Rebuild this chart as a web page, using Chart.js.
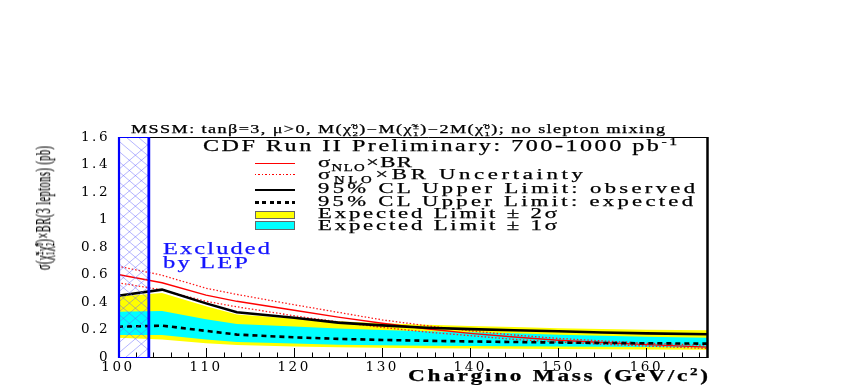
<!DOCTYPE html>
<html><head><meta charset="utf-8">
<script src="https://cdn.jsdelivr.net/npm/chart.js@4/dist/chart.umd.min.js"></script>
<style>
html,body{margin:0;padding:0;background:#fff;}
#wrap{position:relative;width:850px;height:385px;overflow:hidden;background:#fff;}
canvas{position:absolute;left:0;top:0;}
.t{position:absolute;white-space:nowrap;line-height:1;font-family:"Liberation Serif","Times New Roman",serif;color:#000;transform-origin:0 0;-webkit-text-stroke:0.25px currentColor;}
.ss{display:inline-block;vertical-align:-0.32em;font-size:0.6em;line-height:0.92;text-align:left;}
.ss span{display:block;}
sub,sup{font-size:0.65em;line-height:0;}
.sw{position:absolute;box-sizing:border-box;}
</style></head><body>
<div id="wrap"><canvas id="c" width="850" height="385"></canvas></div>
<script>
// ---- data ----
const mass      = [100, 105, 110, 113.5, 120, 125, 130, 135, 140, 145, 150, 155, 160, 167];
const sigmaBR   = [0.60, 0.54, 0.45, 0.405, 0.34, 0.29, 0.245, 0.205, 0.172, 0.145, 0.122, 0.105, 0.090, 0.072];
const sigmaUp   = [0.66, 0.595, 0.50, 0.455, 0.38, 0.325, 0.27, 0.228, 0.19, 0.16, 0.135, 0.117, 0.100, 0.085];
const sigmaDn   = [0.54, 0.488, 0.405, 0.365, 0.30, 0.255, 0.215, 0.182, 0.155, 0.128, 0.108, 0.093, 0.080, 0.062];
const observed  = [0.445, 0.49, 0.39, 0.325, 0.285, 0.25, 0.23, 0.213, 0.203, 0.195, 0.187, 0.178, 0.172, 0.165];
const expected  = [0.22, 0.228, 0.19, 0.163, 0.143, 0.132, 0.124, 0.118, 0.113, 0.109, 0.105, 0.102, 0.100, 0.097];
const exp1Up    = [0.33, 0.335, 0.275, 0.24, 0.222, 0.208, 0.197, 0.188, 0.18, 0.172, 0.162, 0.155, 0.148, 0.14];
const exp1Dn    = [0.16, 0.16, 0.128, 0.11, 0.098, 0.09, 0.085, 0.082, 0.08, 0.078, 0.076, 0.074, 0.072, 0.07];
const exp2Up    = [0.44, 0.465, 0.37, 0.31, 0.28, 0.26, 0.245, 0.235, 0.225, 0.218, 0.21, 0.203, 0.198, 0.195];
const exp2Dn    = [0.14, 0.128, 0.10, 0.087, 0.077, 0.071, 0.067, 0.064, 0.062, 0.060, 0.058, 0.056, 0.055, 0.053];
const lepLimit  = 103.5;
const xRange    = [100, 167];
const yRange    = [0, 1.6];
const xTicks    = [100, 110, 120, 130, 140, 150, 160];
const xTickLabels = ["100", "110", "120", "130", "140", "150", "160"];
const yTicks    = [0, 0.2, 0.4, 0.6, 0.8, 1.0, 1.2, 1.4, 1.6];
const yTickLabels = ["0", "0.2", "0.4", "0.6", "0.8", "1", "1.2", "1.4", "1.6"];

const pts = arr => mass.map((m, i) => ({x: m, y: arr[i]}));
const clear = 'rgba(0,0,0,0)';

const framePlugin = {
  id: 'frame',
  beforeDraw(chart) { chart.ctx.letterSpacing = '2.5px'; },
  afterDraw(chart) { chart.ctx.letterSpacing = '0px'; },
  afterDatasetsDraw(chart) {
    const {ctx, chartArea: a, scales: {x, y}} = chart;
    ctx.save();
    ctx.letterSpacing = '0px';
    // LEP exclusion hatch
    const xl = x.getPixelForValue(xRange[0]);
    const xr = x.getPixelForValue(lepLimit);
    ctx.save();
    ctx.beginPath(); ctx.rect(xl, a.top, xr - xl, a.bottom - a.top); ctx.clip();
    ctx.strokeStyle = 'rgba(100,100,255,0.6)'; ctx.lineWidth = 0.8;
    const h = a.bottom - a.top, step = 12, k = 0.85;
    for (let s = -h; s < (xr - xl) + h; s += step) {
      ctx.beginPath();
      ctx.moveTo(xl + s, a.top); ctx.lineTo(xl + s + h / k, a.bottom); ctx.stroke();
      ctx.beginPath();
      ctx.moveTo(xl + s, a.bottom); ctx.lineTo(xl + s + h / k, a.top); ctx.stroke();
    }
    ctx.restore();
    // frame
    ctx.strokeStyle = '#000'; ctx.lineWidth = 1;
    ctx.beginPath(); ctx.moveTo(xr, a.top + 0.5); ctx.lineTo(a.right, a.top + 0.5); ctx.stroke();
    ctx.beginPath(); ctx.moveTo(xl, a.bottom + 0.5); ctx.lineTo(a.right, a.bottom + 0.5); ctx.stroke();
    ctx.lineWidth = 2.5;
    ctx.beginPath(); ctx.moveTo(a.right - 0.5, a.top); ctx.lineTo(a.right - 0.5, a.bottom + 1); ctx.stroke();
    // x ticks (inward)
    ctx.lineWidth = 1;
    for (let v = xRange[0]; v <= xRange[1] + 1e-6; v += 2) {
      const major = xTicks.includes(v);
      const px = Math.round(x.getPixelForValue(v)) + 0.5;
      ctx.beginPath(); ctx.moveTo(px, a.bottom); ctx.lineTo(px, a.bottom - (major ? 9 : 4.5)); ctx.stroke();
    }
    // LEP box borders
    ctx.strokeStyle = '#0000ff';
    ctx.lineWidth = 1;
    ctx.beginPath(); ctx.moveTo(xl, a.top + 0.5); ctx.lineTo(xr, a.top + 0.5); ctx.stroke();
    ctx.beginPath(); ctx.moveTo(xl, a.bottom + 0.5); ctx.lineTo(xr, a.bottom + 0.5); ctx.stroke();
    ctx.lineWidth = 2.2;
    ctx.beginPath(); ctx.moveTo(xl + 1, a.top); ctx.lineTo(xl + 1, a.bottom + 1); ctx.stroke();
    ctx.lineWidth = 2.8;
    ctx.beginPath(); ctx.moveTo(xr, a.top); ctx.lineTo(xr, a.bottom + 1); ctx.stroke();
    ctx.restore();
  }
};

new Chart(document.getElementById('c'), {
  type: 'line',
  data: {datasets: [
    {label: 'sigmaBR', data: pts(sigmaBR), borderColor: '#ff0000', borderWidth: 1.4, order: 1, fill: false},
    {label: 'sigmaUp', data: pts(sigmaUp), borderColor: '#ff1a1a', borderWidth: 1.3, borderDash: [1.5, 2], order: 2, fill: false},
    {label: 'sigmaDn', data: pts(sigmaDn), borderColor: '#ff1a1a', borderWidth: 1.3, borderDash: [1.5, 2], order: 2, fill: false},
    {label: 'observed', data: pts(observed), borderColor: '#000', borderWidth: 2.6, order: 0, fill: false},
    {label: 'expected', data: pts(expected), borderColor: '#000', borderWidth: 2.6, borderDash: [5, 4], order: 0, fill: false},
    {label: 'exp1Up', data: pts(exp1Up), borderColor: clear, borderWidth: 1, backgroundColor: '#00ffff', fill: {target: 6}, order: 8},
    {label: 'exp1Dn', data: pts(exp1Dn), borderColor: clear, borderWidth: 1, fill: false, order: 8},
    {label: 'exp2Up', data: pts(exp2Up), borderColor: clear, borderWidth: 1, backgroundColor: '#ffff00', fill: {target: 8}, order: 9},
    {label: 'exp2Dn', data: pts(exp2Dn), borderColor: clear, borderWidth: 1, fill: false, order: 9}
  ]},
  options: {
    responsive: false, animation: false, devicePixelRatio: 1,
    layout: {padding: {left: 0, top: 137, right: 142, bottom: 0}},
    elements: {point: {radius: 0}, line: {tension: 0}},
    plugins: {legend: {display: false}, tooltip: {enabled: false}, filler: {propagate: false}},
    scales: {
      x: {
        type: 'linear', min: xRange[0], max: xRange[1],
        grid: {display: false, drawTicks: false}, border: {display: false},
        afterBuildTicks: s => { s.ticks = xTicks.map(v => ({value: v})); },
        afterFit: s => { s.height = 28; },
        ticks: {padding: 2, color: '#000', autoSkip: false, maxRotation: 0,
          font: {family: 'DejaVu Serif', size: 13.5},
          callback: (v, i) => xTickLabels[i]}
      },
      y: {
        type: 'linear', min: yRange[0], max: yRange[1],
        grid: {display: false, drawTicks: false}, border: {display: false},
        afterBuildTicks: s => { s.ticks = yTicks.map(v => ({value: v})); },
        afterFit: s => { s.width = 118; },
        ticks: {padding: 8, color: '#000', autoSkip: false,
          font: {family: 'DejaVu Serif', size: 13.5},
          callback: (v, i) => yTickLabels[i]}
      }
    }
  },
  plugins: [framePlugin]
});

// ---- text overlays ----
const wrap = document.getElementById('wrap');
function addText(html, o) {
  const d = document.createElement('div');
  d.className = 't';
  d.innerHTML = html;
  d.style.fontSize = o.size + 'px';
  if (o.bold) d.style.fontWeight = 'bold';
  if (o.color) d.style.color = o.color;
  d.style.left = o.left + 'px';
  d.style.top = (o.rotate ? o.top : (o.baseline - 0.8375 * o.size)) + 'px';
  wrap.appendChild(d);
  const w0 = d.getBoundingClientRect().width;
  const n = d.textContent.length;
  let sx = o.sx || 1.5;
  let ls = (o.width / sx - w0) / n;
  if (ls < 0) ls = 0;
  d.style.letterSpacing = ls + 'px';
  const w1 = d.getBoundingClientRect().width - ls;
  sx = o.width / w1;
  d.style.transform = (o.rotate ? 'rotate(-90deg) ' : '') + 'scaleX(' + sx + ')';
}
const chi = (up, dn) => 'χ̃<span class="ss"><span>' + up + '</span><span>' + dn + '</span></span>';

addText('MSSM: tanβ=3, μ&gt;0, M(' + chi('0', '2') + ')−M(' + chi('±', '1') + ')−2M(' + chi('0', '1') + '); no slepton mixing',
  {left: 131, baseline: 134, size: 11.5, width: 534, sx: 1.55});
addText('CDF Run II Preliminary: 700-1000 pb<sup>-1</sup>', {left: 203, baseline: 151, size: 16, width: 474, sx: 1.5});
addText('σ<sub>NLO</sub>×BR', {left: 318, baseline: 168, size: 15, width: 94, sx: 1.5});
addText('σ<sub>NLO</sub>×BR Uncertainty', {left: 318, baseline: 180, size: 15, width: 265, sx: 1.5});
addText('95% CL Upper Limit: observed', {left: 318, baseline: 194, size: 14, width: 377, sx: 1.6});
addText('95% CL Upper Limit: expected', {left: 318, baseline: 207, size: 14, width: 375, sx: 1.6});
addText('Expected Limit ± 2σ', {left: 318, baseline: 219, size: 14, width: 239, sx: 1.6});
addText('Expected Limit ± 1σ', {left: 318, baseline: 231, size: 14, width: 239, sx: 1.6});
addText('Excluded', {left: 163, baseline: 255, size: 16.5, width: 107, sx: 1.45, color: '#1414ff'});
addText('by LEP', {left: 163, baseline: 269, size: 16.5, width: 85, sx: 1.45, color: '#1414ff'});
addText('Chargino Mass (GeV/c<sup>2</sup>)', {left: 408, baseline: 382, size: 16.5, width: 300, sx: 1.4, bold: true});
addText('σ(' + chi('±', '1') + chi('0', '2') + ')×BR(3 leptons) (pb)', {left: 33, top: 270, size: 20, width: 124, sx: 0.5, rotate: true});

// legend swatches
function sw(css) { const d = document.createElement('div'); d.className = 'sw'; Object.assign(d.style, css); wrap.appendChild(d); }
sw({left: '255px', top: '162.5px', width: '40px', height: '1.5px', background: '#ff0000'});
sw({left: '255px', top: '173.5px', width: '40px', height: '1.5px', background: 'repeating-linear-gradient(90deg,#ff0000 0 1.5px,transparent 1.5px 3.5px)'});
sw({left: '255px', top: '188.5px', width: '40px', height: '2.5px', background: '#000'});
sw({left: '255px', top: '201px', width: '40px', height: '2.5px', background: 'repeating-linear-gradient(90deg,#000 0 4px,transparent 4px 7.5px)'});
sw({left: '255px', top: '210.5px', width: '40px', height: '8px', background: '#ffff00', border: '1px solid #666'});
sw({left: '255px', top: '221px', width: '40px', height: '8.5px', background: '#00ffff', border: '1px solid #666'});
</script>
</body></html>
